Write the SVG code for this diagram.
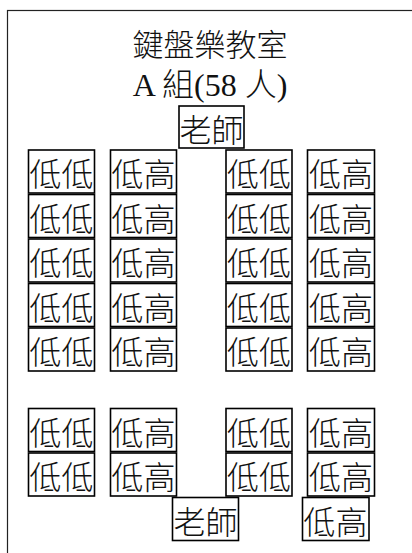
<svg xmlns="http://www.w3.org/2000/svg" width="412" height="553" viewBox="0 0 412 553">
<style>
.seat rect{fill:#fff;stroke:#000;stroke-width:1.6}
.seat text{font-family:"Noto Sans CJK TC","Noto Sans CJK SC",sans-serif;font-size:32px;font-weight:300;fill:#111;text-anchor:middle;dominant-baseline:central}
.title{font-family:"Liberation Serif","Noto Sans CJK TC",serif;font-weight:300;fill:#111;text-anchor:middle}
</style>
<rect x="7.5" y="10.5" width="600" height="700" fill="#fff" stroke="#222" stroke-width="1.2"/>
<text class="title" x="210" y="56" font-size="31">鍵盤樂教室</text>
<text class="title" x="210" y="96" font-size="32">A 組(58 人)</text>
<g id="teacher-top" class="seat"><rect x="179" y="106" width="65" height="42"/><text x="211.5" y="128">老師</text></g>
<g id="seats" class="seat">
<g id="r1c1"><rect x="28.5" y="150" width="66" height="43"/><text x="61.5" y="172">低低</text></g>
<g id="r1c2"><rect x="110.5" y="150" width="66" height="43"/><text x="143.5" y="172">低高</text></g>
<g id="r1c3"><rect x="226" y="150" width="66" height="43"/><text x="259" y="172">低低</text></g>
<g id="r1c4"><rect x="307.5" y="150" width="67" height="43"/><text x="341" y="172">低高</text></g>
<g id="r2c1"><rect x="28.5" y="194.5" width="66" height="43"/><text x="61.5" y="216.5">低低</text></g>
<g id="r2c2"><rect x="110.5" y="194.5" width="66" height="43"/><text x="143.5" y="216.5">低高</text></g>
<g id="r2c3"><rect x="226" y="194.5" width="66" height="43"/><text x="259" y="216.5">低低</text></g>
<g id="r2c4"><rect x="307.5" y="194.5" width="67" height="43"/><text x="341" y="216.5">低高</text></g>
<g id="r3c1"><rect x="28.5" y="239" width="66" height="43"/><text x="61.5" y="261">低低</text></g>
<g id="r3c2"><rect x="110.5" y="239" width="66" height="43"/><text x="143.5" y="261">低高</text></g>
<g id="r3c3"><rect x="226" y="239" width="66" height="43"/><text x="259" y="261">低低</text></g>
<g id="r3c4"><rect x="307.5" y="239" width="67" height="43"/><text x="341" y="261">低高</text></g>
<g id="r4c1"><rect x="28.5" y="283.5" width="66" height="43"/><text x="61.5" y="305.5">低低</text></g>
<g id="r4c2"><rect x="110.5" y="283.5" width="66" height="43"/><text x="143.5" y="305.5">低高</text></g>
<g id="r4c3"><rect x="226" y="283.5" width="66" height="43"/><text x="259" y="305.5">低低</text></g>
<g id="r4c4"><rect x="307.5" y="283.5" width="67" height="43"/><text x="341" y="305.5">低高</text></g>
<g id="r5c1"><rect x="28.5" y="328" width="66" height="43"/><text x="61.5" y="350">低低</text></g>
<g id="r5c2"><rect x="110.5" y="328" width="66" height="43"/><text x="143.5" y="350">低高</text></g>
<g id="r5c3"><rect x="226" y="328" width="66" height="43"/><text x="259" y="350">低低</text></g>
<g id="r5c4"><rect x="307.5" y="328" width="67" height="43"/><text x="341" y="350">低高</text></g>
<g id="r6c1"><rect x="28.5" y="408.5" width="66" height="43"/><text x="61.5" y="430.5">低低</text></g>
<g id="r6c2"><rect x="110.5" y="408.5" width="66" height="43"/><text x="143.5" y="430.5">低高</text></g>
<g id="r6c3"><rect x="226" y="408.5" width="66" height="43"/><text x="259" y="430.5">低低</text></g>
<g id="r6c4"><rect x="307.5" y="408.5" width="67" height="43"/><text x="341" y="430.5">低高</text></g>
<g id="r7c1"><rect x="28.5" y="453" width="66" height="43"/><text x="61.5" y="475">低低</text></g>
<g id="r7c2"><rect x="110.5" y="453" width="66" height="43"/><text x="143.5" y="475">低高</text></g>
<g id="r7c3"><rect x="226" y="453" width="66" height="43"/><text x="259" y="475">低低</text></g>
<g id="r7c4"><rect x="307.5" y="453" width="67" height="43"/><text x="341" y="475">低高</text></g>
</g>
<g id="teacher-bottom" class="seat"><rect x="172.5" y="497.5" width="66" height="43"/><text x="205.5" y="519.5">老師</text></g>
<g id="seat-extra" class="seat"><rect x="302.5" y="497.5" width="66.5" height="43"/><text x="335.5" y="519.5">低高</text></g>
<g id="connectors"/>
</svg>
